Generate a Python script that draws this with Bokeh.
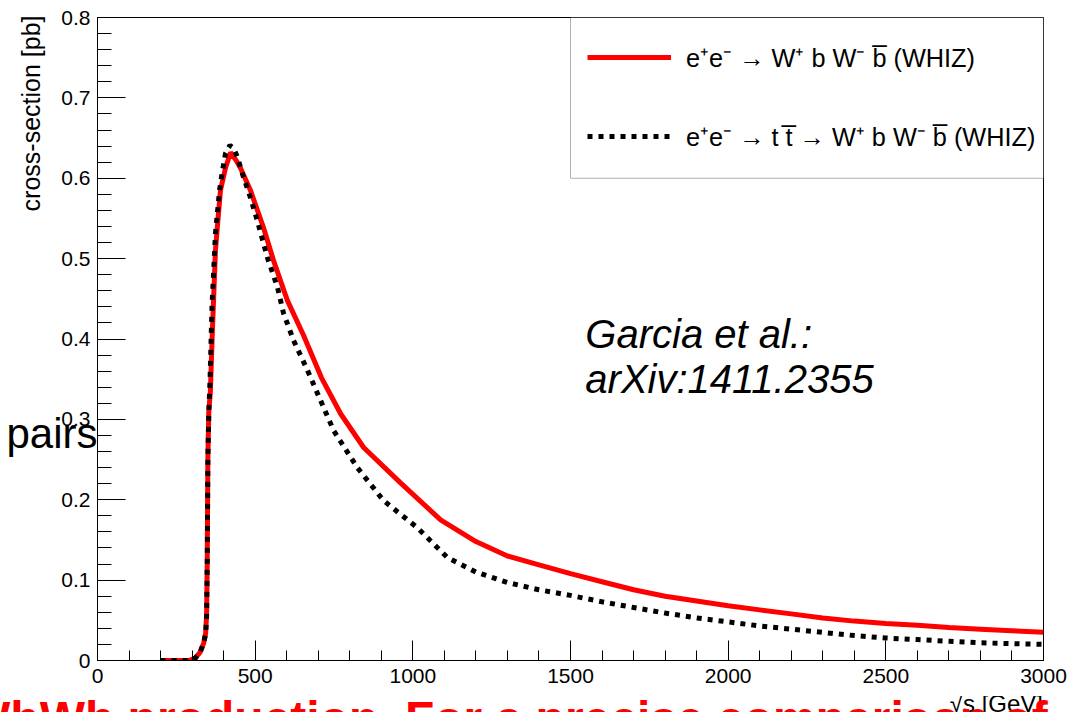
import math
from bokeh.plotting import figure
from bokeh.layouts import column
from bokeh.models import (Range1d, SingleIntervalTicker, FixedTicker, Label, Legend,
                          LegendItem, BoxAnnotation, LinearAxis, Title, Div)
from bokeh.embed import file_html
from bokeh.resources import INLINE

# ---- data ----
sqrt_s_wbwb = [200, 250, 290, 310, 325, 337, 343, 346, 348, 350, 353, 358, 364, 368,
               374, 380, 390, 406, 422, 440, 453, 485, 526, 558, 602, 653, 710, 771,
               844, 961, 1088, 1200, 1300, 1400, 1500, 1600, 1700, 1800, 1900,
               2000, 2100, 2200, 2300, 2400, 2500, 2600, 2700, 2800, 2900, 3000]
xsec_wbwb = [0.0, 0.0, 0.0, 0.003, 0.010, 0.022, 0.034, 0.058, 0.12, 0.25, 0.31, 0.335,
             0.407, 0.448, 0.51, 0.539, 0.585, 0.613, 0.632, 0.622, 0.613, 0.585, 0.539,
             0.498, 0.448, 0.405, 0.352, 0.307, 0.265, 0.221, 0.175, 0.148, 0.130,
             0.119, 0.108, 0.098, 0.088, 0.080, 0.074, 0.068, 0.063, 0.058, 0.053, 0.049,
             0.046, 0.044, 0.041, 0.039, 0.037, 0.035]

sqrt_s_tt = [200, 250, 290, 310, 325, 337, 343, 346, 348, 350, 353, 357, 363, 374, 387,
             395, 406, 420, 432, 444, 460, 485, 507, 539, 571, 590, 622, 666, 698, 749,
             824, 907, 1015, 1110, 1200, 1300, 1400, 1500, 1600, 1700, 1800, 1900, 2000,
             2100, 2200, 2300, 2400, 2500, 2600, 2700, 2800, 2900, 3000]
xsec_tt = [0.0, 0.0, 0.0, 0.003, 0.010, 0.022, 0.034, 0.055, 0.12, 0.25, 0.31, 0.35,
           0.44, 0.531, 0.585, 0.606, 0.631, 0.641, 0.637, 0.626, 0.605, 0.576, 0.547,
           0.501, 0.464, 0.432, 0.398, 0.361, 0.332, 0.286, 0.240, 0.199, 0.165, 0.128,
           0.110, 0.097, 0.088, 0.081, 0.073, 0.066, 0.059, 0.053, 0.048, 0.043, 0.039,
           0.035, 0.031, 0.028, 0.026, 0.024, 0.022, 0.021, 0.020]

legend_labels = ["e\u207ae\u207b \u2192 W\u207a b W\u207b b\u0305 (WHIZ)",
                 "e\u207ae\u207b \u2192 t t\u0305 \u2192 W\u207a b W\u207b b\u0305 (WHIZ)"]
x_title = "\u221as [GeV]"
y_title = "cross-section [pb]"
ref_lines = ["Garcia et al.:", "arXiv:1411.2355"]
ref_x = 1547
ref_y = [0.4068, 0.3508]
slide_left_text = "pairs"
slide_left_pos = 0.282
slide_bottom_text = "WbWb production. For a precise comparison of"

FONT = "Liberation Sans"

p = figure(width=1083, height=696, output_backend="svg", toolbar_location=None,
           title=None, x_range=Range1d(0, 3000), y_range=Range1d(0, 0.8),
           min_border_left=97, min_border_right=40, min_border_top=17,
           min_border_bottom=36)
p.background_fill_color = "white"
p.border_fill_color = "white"
p.outline_line_color = "black"
p.outline_line_width = 1
p.grid.visible = False

p.xaxis.ticker = SingleIntervalTicker(interval=500, num_minor_ticks=5)
p.yaxis.ticker = SingleIntervalTicker(interval=0.1, num_minor_ticks=5)
p.yaxis.major_label_overrides = {0: "0"}
for ax in (p.xaxis[0], p.yaxis[0]):
    ax.major_tick_out = 0
    ax.minor_tick_out = 0
    ax.axis_line_color = "black"
    ax.major_tick_line_color = "black"
    ax.minor_tick_line_color = "black"
    ax.major_label_text_font = FONT
    ax.major_label_text_font_size = "21px"
    ax.major_label_text_color = "black"
p.xaxis.major_tick_in = 20
p.xaxis.minor_tick_in = 10
p.yaxis.major_tick_in = 28
p.yaxis.minor_tick_in = 14
p.yaxis.major_label_standoff = 7
p.xaxis.major_label_standoff = 8

# y-axis title, placed at the top end like ROOT
p.add_layout(Title(text=y_title, align="right", vertical_align="top", standoff=24,
                   offset=-2, text_font=FONT, text_font_size="25px",
                   text_font_style="normal", text_color="black"), "left")

# stray slide text on the left, as a label-only axis
pairs_axis = LinearAxis(ticker=FixedTicker(ticks=[slide_left_pos]),
                        major_label_overrides={slide_left_pos: slide_left_text},
                        axis_line_color=None, major_tick_line_color=None,
                        minor_tick_line_color=None, major_tick_in=0, major_tick_out=0,
                        minor_tick_in=0, minor_tick_out=0, major_label_standoff=-93,
                        major_label_text_font=FONT, major_label_text_font_size="42px",
                        major_label_text_color="black")
p.add_layout(pairs_axis, "left")

r_wbwb = p.line(sqrt_s_wbwb, xsec_wbwb, line_color="#ff0000", line_width=5)
r_tt = p.line(sqrt_s_tt, xsec_tt, line_color="black", line_width=5, line_dash="5 6")

box = BoxAnnotation(left=1500, right=3000, bottom=0.6, top=0.8,
                    fill_color="white", fill_alpha=1.0,
                    line_color="black", line_width=1)
p.add_layout(box)

legend = Legend(items=[LegendItem(label=legend_labels[0], renderers=[r_wbwb]),
                       LegendItem(label=legend_labels[1], renderers=[r_tt])],
                location=(490, 504), orientation="vertical", padding=0, margin=0,
                spacing=39, glyph_width=84, glyph_height=40, label_height=40,
                label_standoff=15, border_line_color=None, background_fill_alpha=0,
                label_text_font=FONT, label_text_font_size="25.3px",
                label_text_color="black", label_text_baseline="middle")
p.add_layout(legend)

for txt, yy in zip(ref_lines, ref_y):
    p.add_layout(Label(x=ref_x, y=yy, text=txt, text_font=FONT,
                       text_font_size="40px", text_font_style="italic",
                       text_color="black", text_baseline="middle"))

# bottom strip: x-axis title and the slide text that runs off the page
strip_html = (
    '<div style="position:relative;width:1083px;height:16px;overflow:hidden;'
    "font-family:'Liberation Sans',Arial,sans-serif;margin:0;padding:0;\">"
    '<span style="position:absolute;right:40px;top:-4px;font-size:24px;'
    'line-height:24px;color:black;white-space:nowrap;">' + x_title + '</span>'
    '<span style="position:absolute;left:-35px;top:-1px;font-size:48px;'
    'line-height:48px;font-weight:bold;color:#ff0000;white-space:nowrap;">'
    + slide_bottom_text + '</span></div>'
)
strip = Div(text=strip_html, width=1083, height=16, margin=0,
            styles={"overflow": "hidden"})

layout = column(p, strip, spacing=0)
open("out.html", "w").write(file_html(layout, INLINE))
